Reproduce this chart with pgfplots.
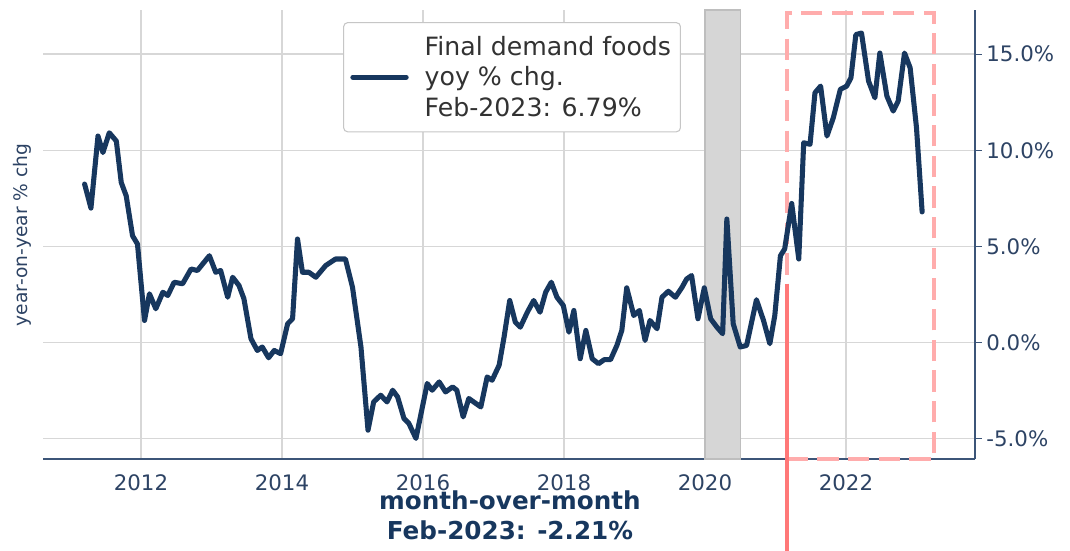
\documentclass[border=0pt]{standalone}
\usepackage{fontspec}
\setmainfont{DejaVu Sans}
\usepackage{pgfplots}
\pgfplotsset{compat=1.18}
\definecolor{navy}{RGB}{23,55,94}
\definecolor{ticktext}{RGB}{45,67,100}
\definecolor{spine}{RGB}{60,85,120}
\definecolor{gridc}{RGB}{215,215,215}
\definecolor{bandc}{RGB}{214,214,214}
\definecolor{banddraw}{RGB}{190,190,190}
\definecolor{dashred}{RGB}{255,172,172}
\definecolor{solidred}{RGB}{255,120,120}
\definecolor{legtext}{RGB}{50,50,50}
\begin{document}
\begin{tikzpicture}
\useasboundingbox (-32.25pt,-68.25pt) rectangle (770.25pt,344.25pt);
\begin{axis}[
  at={(0,0)}, anchor=south west,
  scale only axis, width=699pt, height=336.75pt,
  xmin=2010.61, xmax=2023.83, ymin=-6.07, ymax=17.3,
  axis x line*=bottom, axis y line*=right,
  axis line style={spine, line width=1pt},
  xtick={2012,2014,2016,2018,2020,2022},
  xticklabels={2012,2014,2016,2018,2020,2022},
  ytick={-5,0,5,10,15},
  yticklabels={-5.0\%,0.0\%,5.0\%,10.0\%,15.0\%},
  grid=major, major grid style={gridc, line width=1.1pt},
  xtick style={draw=none},
  ytick style={spine, line width=1pt},
  tick align=outside, major tick length=5pt,
  ticklabel style={font=\fontsize{16}{19}\selectfont, text=ticktext},
  xticklabel style={yshift=-3pt},
  clip=false,
  legend style={at={(rel axis cs:0.322,0.973)}, anchor=north west,
    draw=gray!45, rounded corners=3pt, line width=0.8pt, fill=white,
    font=\fontsize{18.9}{23}\selectfont, text=legtext,
    inner xsep=5pt, inner ysep=8pt,
    /tikz/every odd column/.style={column sep=10pt},
    cells={anchor=west, align=left}},
  legend image code/.code={\draw[#1, line width=3.8pt] (0pt,0pt) -- (40pt,0pt);},
]
\addplot[fill=bandc, draw=banddraw, line width=0.8pt, forget plot]
  coordinates {(2020,-6.07) (2020.5,-6.07) (2020.5,17.3) (2020,17.3)} -- cycle;
\addplot[draw=dashred, line width=3pt, dash pattern=on 16pt off 7pt, forget plot]
  coordinates {(2021.16,-6.07) (2023.25,-6.07) (2023.25,17.15) (2021.16,17.15)} -- cycle;
\addplot[draw=solidred, line width=3.3pt, forget plot]
  coordinates {(2021.16,3.06) (2021.16,-10.85)};
\addplot[navy, line width=3.8pt, line join=round, line cap=round] table {
2011.20 8.24
2011.29 6.99
2011.39 10.74
2011.46 9.88
2011.55 10.91
2011.65 10.48
2011.72 8.32
2011.79 7.63
2011.88 5.55
2011.95 5.12
2012.05 1.14
2012.12 2.53
2012.21 1.75
2012.31 2.61
2012.38 2.44
2012.47 3.13
2012.59 3.05
2012.71 3.82
2012.80 3.74
2012.97 4.51
2013.06 3.65
2013.13 3.74
2013.23 2.35
2013.30 3.39
2013.39 2.96
2013.46 2.27
2013.56 0.19
2013.65 -0.42
2013.72 -0.24
2013.81 -0.80
2013.89 -0.42
2013.98 -0.59
2014.08 0.97
2014.15 1.23
2014.22 5.38
2014.29 3.65
2014.38 3.65
2014.48 3.39
2014.62 4.00
2014.76 4.34
2014.90 4.34
2015.00 2.87
2015.12 -0.24
2015.22 -4.57
2015.30 -3.10
2015.40 -2.75
2015.49 -3.10
2015.57 -2.49
2015.64 -2.84
2015.73 -3.96
2015.80 -4.22
2015.90 -5.00
2016.06 -2.14
2016.13 -2.49
2016.23 -2.06
2016.32 -2.58
2016.42 -2.32
2016.48 -2.49
2016.57 -3.88
2016.65 -2.92
2016.75 -3.18
2016.82 -3.36
2016.91 -1.80
2016.98 -1.97
2017.08 -1.19
2017.15 0.28
2017.23 2.18
2017.31 1.05
2017.38 0.79
2017.48 1.57
2017.57 2.18
2017.66 1.57
2017.74 2.61
2017.82 3.13
2017.90 2.35
2017.99 1.92
2018.07 0.53
2018.14 1.66
2018.23 -0.85
2018.31 0.62
2018.40 -0.85
2018.49 -1.11
2018.57 -0.90
2018.66 -0.90
2018.75 -0.16
2018.82 0.62
2018.89 2.84
2018.99 1.40
2019.07 1.66
2019.15 0.10
2019.22 1.14
2019.32 0.71
2019.39 2.35
2019.48 2.66
2019.58 2.35
2019.67 2.84
2019.74 3.30
2019.81 3.48
2019.90 1.23
2019.99 2.84
2020.08 1.23
2020.17 0.79
2020.25 0.45
2020.31 6.42
2020.40 0.97
2020.50 -0.24
2020.59 -0.16
2020.73 2.22
2020.83 1.14
2020.92 -0.07
2020.99 1.40
2021.07 4.51
2021.13 4.86
2021.23 7.23
2021.33 4.34
2021.40 10.39
2021.49 10.31
2021.56 12.99
2021.64 13.34
2021.73 10.74
2021.82 11.69
2021.92 13.17
2022.01 13.34
2022.07 13.77
2022.14 16.02
2022.22 16.10
2022.32 13.60
2022.41 12.73
2022.48 15.06
2022.58 12.82
2022.67 12.04
2022.74 12.56
2022.83 15.06
2022.91 14.29
2023.00 11.17
2023.08 6.79
};
\addlegendentry{Final demand foods\\yoy \% chg.\\Feb-2023: 6.79\%}
\node[rotate=90, font=\fontsize{14}{16}\selectfont, text=ticktext] at (rel axis cs:-0.0225,0.499) {year-on-year \% chg};
\node[anchor=north, align=center, yshift=-20pt, font=\bfseries\fontsize{18.5}{22.5}\selectfont, text=navy] at (rel axis cs:0.501,0) {month-over-month\\Feb-2023: -2.21\%};
\end{axis}
\end{tikzpicture}
\end{document}
